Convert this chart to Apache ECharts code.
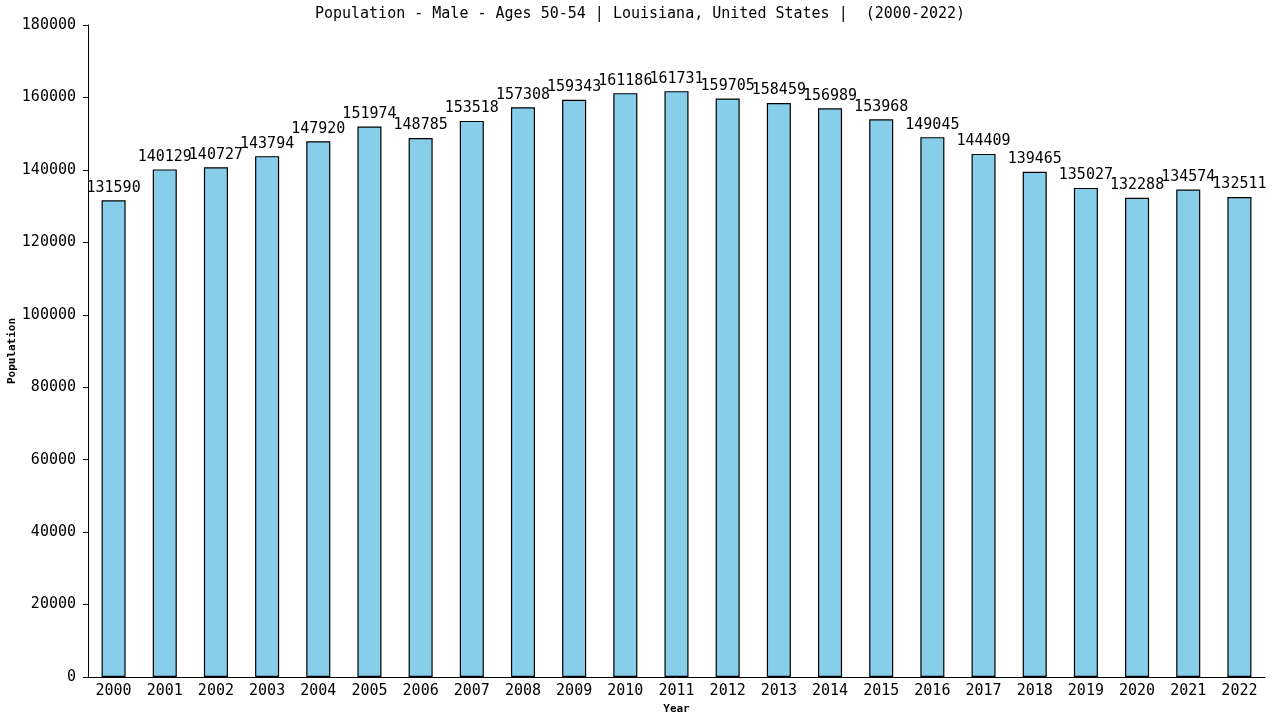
<!DOCTYPE html>
<html>
<head>
<meta charset="utf-8">
<script src="https://cdn.jsdelivr.net/npm/echarts@6/dist/echarts.min.js"></script>
<style>
html, body { margin: 0; padding: 0; background: #fff; }
#main { width: 1280px; height: 720px; }
</style>
</head>
<body>
<div id="main"></div>
<script>
var years = ['2000','2001','2002','2003','2004','2005','2006','2007','2008','2009','2010','2011',
	'2012','2013','2014','2015','2016','2017','2018','2019','2020','2021','2022'];
var population = [131590,140129,140727,143794,147920,151974,148785,153518,157308,159343,161186,161731,
	159705,158459,156989,153968,149045,144409,139465,135027,132288,134574,132511];
var titleText = 'Population - Male - Ages 50-54 | Louisiana, United States |  (2000-2022)';

var font = 'DejaVu Sans Mono';
var myChart = echarts.init(document.getElementById('main'));
myChart.setOption({
	animation: false,
	title: {
		text: titleText,
		left: 'center',
		top: 2,
		textStyle: { fontFamily: font, fontSize: 15, fontWeight: 'normal', color: '#000' }
	},
	grid: { left: 88, right: 15, top: 25, bottom: 43, containLabel: false, outerBoundsMode: 'none' },
	xAxis: {
		type: 'category',
		data: years,
		name: 'Year',
		nameLocation: 'middle',
		nameGap: 27,
		nameMoveOverlap: false,
		nameTextStyle: { fontFamily: font, fontSize: 11, fontWeight: 'bold', color: '#000' },
		axisLine: { lineStyle: { color: '#000', width: 1 } },
		axisTick: { show: false },
		axisLabel: { fontFamily: font, fontSize: 15, color: '#000', margin: 7, interval: 0 }
	},
	yAxis: {
		type: 'value',
		min: 0,
		max: 180000,
		interval: 20000,
		name: 'Population',
		nameLocation: 'middle',
		nameGap: 70,
		nameMoveOverlap: false,
		nameTextStyle: { fontFamily: font, fontSize: 11, fontWeight: 'bold', color: '#000' },
		axisLine: { show: true, lineStyle: { color: '#000', width: 1 } },
		axisTick: { show: true, length: 5, lineStyle: { color: '#000' } },
		axisLabel: {
			fontFamily: font, fontSize: 15, color: '#000', margin: 12,
			formatter: function (v) { return String(v); }
		},
		splitLine: { show: false }
	},
	series: [{
		type: 'bar',
		data: population,
		barWidth: '47%',
		itemStyle: { color: '#87ceeb', borderColor: '#000', borderWidth: 1.2 },
		label: {
			show: true,
			position: 'top',
			distance: 5,
			fontFamily: font,
			fontSize: 15,
			color: '#000'
		}
	}]
});
</script>
</body>
</html>
